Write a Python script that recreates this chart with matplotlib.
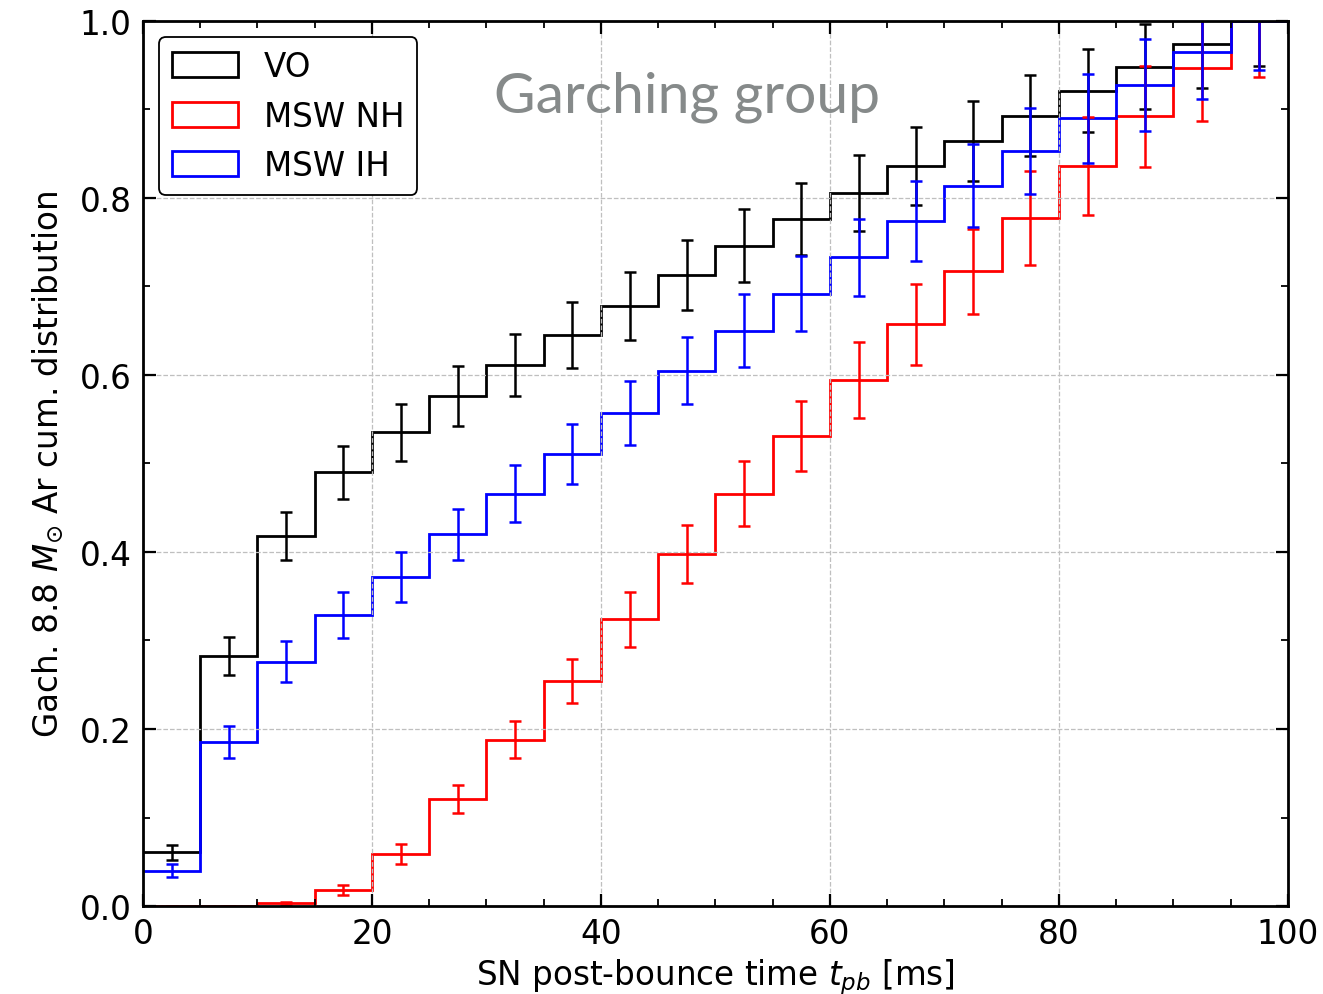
import numpy as np
import matplotlib
matplotlib.use("Agg")
from matplotlib import pyplot as plt
from matplotlib.patches import Patch
from matplotlib.ticker import MultipleLocator

# bin edges in ms (5 ms bins)
edges = np.arange(0, 105, 5)
centers = 0.5 * (edges[:-1] + edges[1:])

# cumulative distributions
vo = [0.061, 0.282, 0.418, 0.490, 0.535, 0.576, 0.611, 0.645, 0.678, 0.713,
      0.746, 0.776, 0.806, 0.836, 0.864, 0.893, 0.921, 0.948, 0.974, 1.0]
vo_err = [0.0085, 0.0215, 0.027, 0.030, 0.032, 0.034, 0.035, 0.037, 0.038, 0.0395,
          0.041, 0.041, 0.043, 0.044, 0.045, 0.046, 0.047, 0.048, 0.050, 0.051]

nh = [0.0, 0.0, 0.003, 0.018, 0.059, 0.121, 0.188, 0.254, 0.324, 0.398,
      0.466, 0.531, 0.594, 0.657, 0.717, 0.777, 0.836, 0.892, 0.947, 1.0]
nh_err = [0.0, 0.0, 0.002, 0.006, 0.011, 0.016, 0.021, 0.025, 0.031, 0.033,
          0.037, 0.040, 0.043, 0.046, 0.048, 0.053, 0.055, 0.057, 0.060, 0.063]

ih = [0.040, 0.185, 0.276, 0.329, 0.372, 0.420, 0.466, 0.511, 0.557, 0.605,
      0.650, 0.692, 0.733, 0.774, 0.814, 0.853, 0.890, 0.928, 0.965, 1.0]
ih_err = [0.007, 0.018, 0.023, 0.026, 0.028, 0.029, 0.032, 0.034, 0.036, 0.038,
          0.041, 0.042, 0.0435, 0.045, 0.047, 0.0485, 0.050, 0.052, 0.053, 0.055]

labels = ["VO", "MSW NH", "MSW IH"]
colors = ["black", "red", "blue"]

fs = 23.5

fig = plt.figure(figsize=(13.23, 9.95), dpi=100)
ax = fig.add_axes([0.108, 0.0884, 0.8655, 0.8896])

for vals, errs, c in zip([vo, nh, ih], [vo_err, nh_err, ih_err], colors):
    ax.stairs(vals, edges, color=c, lw=2.0, baseline=None)
    ax.errorbar(centers, vals, yerr=errs, fmt="none", ecolor=c, elinewidth=1.8,
                capsize=4.5, capthick=1.8)

ax.set_xlim(0, 100)
ax.set_ylim(0, 1.0)
ax.xaxis.set_major_locator(MultipleLocator(20))
ax.xaxis.set_minor_locator(MultipleLocator(5))
ax.yaxis.set_major_locator(MultipleLocator(0.2))
ax.yaxis.set_minor_locator(MultipleLocator(0.1))
ax.tick_params(which="both", direction="in", top=True, right=True, labelsize=fs, pad=8)
ax.tick_params(which="major", length=9, width=1.6)
ax.tick_params(which="minor", length=5, width=1.3)
for sp in ax.spines.values():
    sp.set_linewidth(2)
ax.grid(True, which="major", ls="--", color="0.75", lw=0.9)

ax.set_xlabel(r"SN post-bounce time $t_{pb}$ [ms]", fontsize=fs, labelpad=4)
ax.set_ylabel(r"Gach. 8.8 $M_{\odot}$ Ar cum. distribution", fontsize=fs, labelpad=10)

handles = [Patch(facecolor="none", edgecolor=c, lw=2) for c in colors]
leg = ax.legend(handles, labels, loc="upper left", fontsize=fs, handlelength=2.0,
                handleheight=0.8, framealpha=1, fancybox=True)
leg.get_frame().set_edgecolor("black")
leg.get_frame().set_linewidth(1.3)

ax.text(0.475, 0.915, "Garching group", transform=ax.transAxes, ha="center", va="center",
        fontsize=41, color="#868a8a", family=["Lato", "DejaVu Sans"])

fig.savefig("out.png", dpi=100)
